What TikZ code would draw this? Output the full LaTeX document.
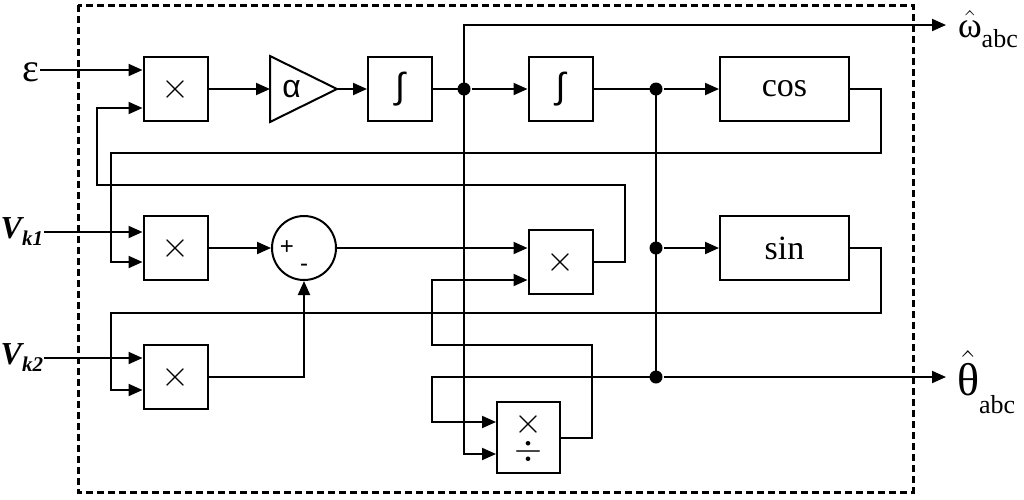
\documentclass[tikz,border=0pt]{standalone}
\usepackage{fix-cm}
\usepackage[no-math]{fontspec}
\setmainfont{Liberation Serif}
\newfontfamily\symfont{Liberation Sans}
\usetikzlibrary{arrows.meta}

\begin{document}
\begin{tikzpicture}[x=1pt, y=-1pt, line width=2pt,
    >={Triangle[length=14pt, width=12pt]},
    blk/.style={draw, minimum width=64pt, minimum height=64pt, inner sep=0pt,
        font=\fontsize{36}{31}\selectfont},
    fnblk/.style={blk, minimum width=129pt, font=\fontsize{34}{40}\selectfont},
    dot/.style={circle, fill, inner sep=0pt, minimum size=13pt},
    lbl/.style={inner sep=0pt},
    sgn/.style={inner sep=0pt, font=\symfont\fontsize{24}{26}\selectfont}]
    \useasboundingbox (0,0) rectangle (1024,499);

    % top row
    \node[blk] (m1) at (175.5,89) {$\times$};
    \node[minimum width=65pt, minimum height=64pt, inner sep=0pt,
        label={[font=\symfont\fontsize{32}{36}\selectfont, xshift=-12pt]center:α}] (gain) at (303.5,89) {};
    \draw (gain.north west) -- (gain.east) -- (gain.south west) -- cycle;
    \node[blk, font=\symfont\fontsize{36}{31}\selectfont] (int1) at (400,89) {∫};
    \node[dot] (j1) at (464,89) {};
    \node[blk, font=\symfont\fontsize{36}{31}\selectfont] (int2) at (560.5,89) {∫};
    \node[dot] (j2) at (656,89) {};
    \node[fnblk] (cos) at (784.5,89) {cos};

    % middle row
    \node[blk] (m2) at (175.5,248) {$\times$};
    \node[draw, circle, minimum size=64pt, inner sep=0pt] (sum) at (304,248) {};
    \node[sgn] (plus) at (287,248) {+};
    \node[sgn] (minus) at (304,268) {-};
    \node[blk] (m3) at (560.5,262) {$\times$};
    \node[dot] (j3) at (656,248) {};
    \node[fnblk] (sin) at (784.5,248) {sin};

    % bottom row
    \node[blk] (m4) at (175.5,377) {$\times$};
    \node[dot] (j4) at (656,377) {};
    \node[blk, minimum width=63pt, minimum height=71pt, align=center] (dv) at (528.5,437.5) {$\times$\\[-4pt]$\div$};

    % inputs and outputs
    \node[lbl] (eps) at (31,72) {\fontsize{40}{44}\selectfont ε};
    \node[lbl, anchor=east] (vk1) at (44,232) {\bfseries\itshape\fontsize{32}{36}\selectfont V\raisebox{-7pt}{\fontsize{21}{24}\selectfont k1}};
    \node[lbl, anchor=east] (vk2) at (44,358) {\bfseries\itshape\fontsize{32}{36}\selectfont V\raisebox{-7pt}{\fontsize{21}{24}\selectfont k2}};
    \node[lbl, anchor=base west] (wout) at (957,37) {\fontsize{36}{40}\selectfont$\hat{\mbox{ω}}$\raisebox{-10pt}{\fontsize{26}{30}\selectfont abc}};
    \node[lbl, anchor=base west] (tout) at (956,395) {\fontsize{46}{50}\selectfont$\hat{\mbox{θ}}$\raisebox{-18pt}{\fontsize{26}{30}\selectfont abc}};
    \coordinate (wtip) at (946,25);
    \coordinate (ttip) at (946,377);

    \coordinate (m1a) at ([yshift=19pt]m1.west);
    \coordinate (m1b) at ([yshift=-19pt]m1.west);
    \coordinate (m2a) at ([yshift=16pt]m2.west);
    \coordinate (m2b) at ([yshift=-14pt]m2.west);
    \coordinate (m3a) at ([yshift=14pt]m3.west);
    \coordinate (m3b) at ([yshift=-18pt]m3.west);
    \coordinate (m4a) at ([yshift=19pt]m4.west);
    \coordinate (m4b) at ([yshift=-13pt]m4.west);
    \coordinate (dva) at ([yshift=15.5pt]dv.west);
    \coordinate (dvb) at ([yshift=-16.5pt]dv.west);

    \draw[->] (eps.east |- m1a) -- (m1a);
    \draw[->] (vk1.east |- m2a) -- (m2a);
    \draw[->] (vk2.east |- m4a) -- (m4a);

    \draw[->] (m1) -- (gain.west);
    \draw[->] (gain.east) -- (int1);
    \draw (int1) -- (j1.center);
    \draw[->] (j1) -- (int2);
    \draw (int2) -- (j2.center);
    \draw[->] (j2) -- (cos);
    \draw (j2.center) -- (j4.center);
    \draw[->] (j3) -- (sin);
    \draw[->] (j4) -- (ttip);
    \draw[->] (j1.center) |- (wtip);
    \draw[->] (j1.center) |- (dvb);
    \draw[->] (j4.center) -- (432,377) |- (dva);

    \draw[->] (m2) -- (sum);
    \draw[->] (m4) -| (sum);
    \draw[->] (sum) -- (m3a);
    \draw[->] (m3.east) -- (625,262) |- (97,185) |- (m1b);
    \draw[->] (cos.east) -- (881,89) |- (111,153) |- (m2b);
    \draw[->] (sin.east) -- (881,248) |- (111,313) |- (m4b);
    \draw[->] (dv.east) -- (592,437.5) |- (432,345) |- (m3b);

    % frame
    \draw[line width=3pt, dash pattern=on 7pt off 4pt] (78,5) rectangle (913,492);
\end{tikzpicture}
\end{document}
